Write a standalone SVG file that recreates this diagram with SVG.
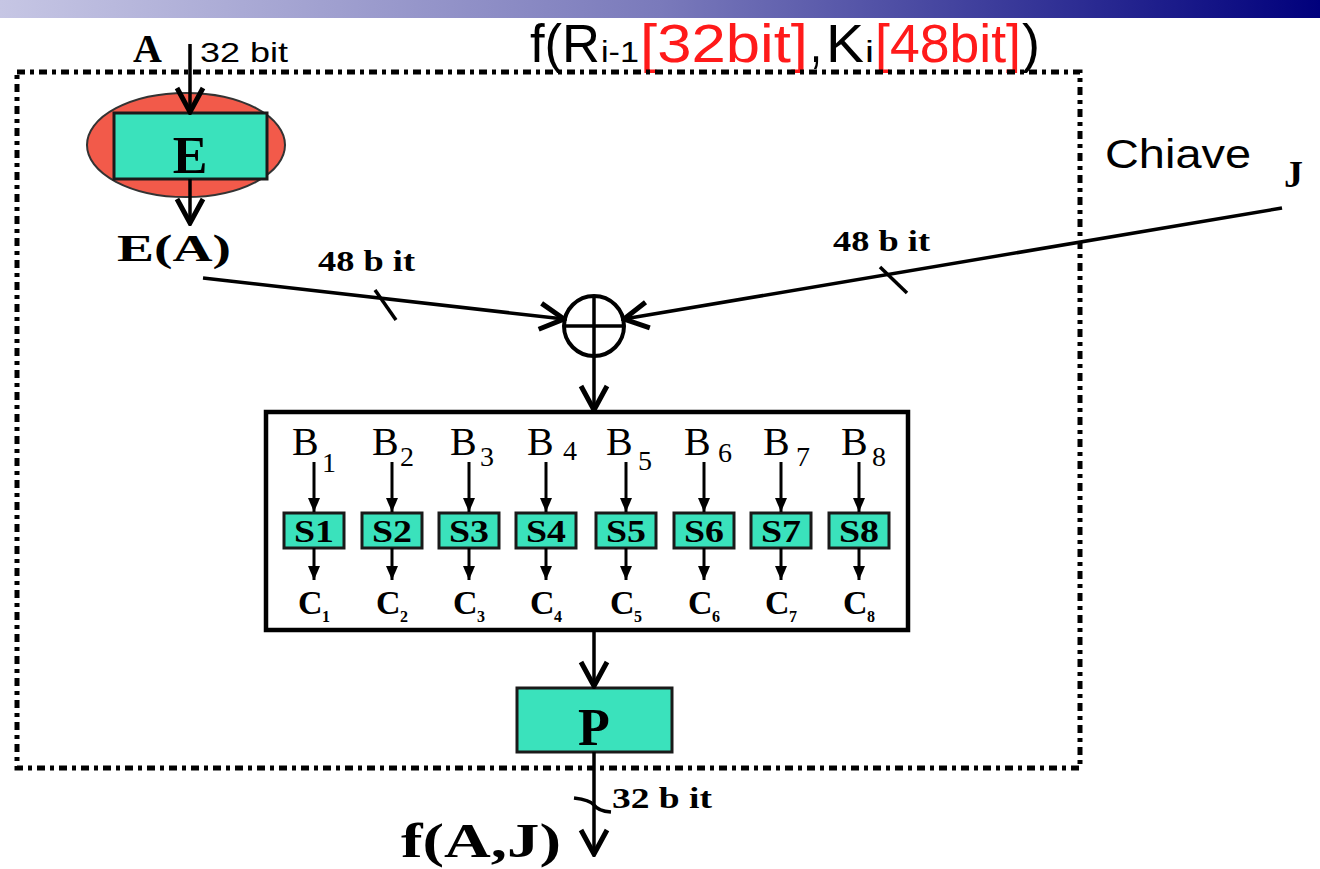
<svg xmlns="http://www.w3.org/2000/svg" width="1320" height="869" viewBox="0 0 1320 869">
<style>
.ser{font-family:"Liberation Serif","Times New Roman",serif;fill:#000}
.b{font-weight:bold}
.sans{font-family:"Liberation Sans",Arial,sans-serif}
.ln{stroke:#000;stroke-width:3.5;fill:none}
.box{fill:#3ae2bc;stroke:#1a1a1a;stroke-width:3}
.red{fill:#ff1a1a}
</style>
<defs>
<linearGradient id="bar" x1="0" x2="1" y1="0" y2="0">
<stop offset="0" stop-color="#c6c6e4"/>
<stop offset="0.5" stop-color="#7a7abb"/>
<stop offset="1" stop-color="#00007c"/>
</linearGradient>
<marker id="big" viewBox="0 0 30 32" refX="27" refY="16" markerWidth="30" markerHeight="32" markerUnits="userSpaceOnUse" orient="auto">
<path d="M3,3 L27,16 L3,29" fill="none" stroke="#000" stroke-width="5"/>
</marker>
<marker id="sm" viewBox="0 0 16 14" refX="15" refY="7" markerWidth="16" markerHeight="14" markerUnits="userSpaceOnUse" orient="auto">
<path d="M1,1 L15,7 L1,13 Z" fill="#000"/>
</marker>
</defs>
<rect x="0" y="0" width="1320" height="18" fill="url(#bar)"/>
<g id="title" class="sans">
<text x="530" y="62" font-size="54" textLength="70" lengthAdjust="spacingAndGlyphs">f(R</text>
<text x="601" y="62" font-size="30" textLength="38" lengthAdjust="spacingAndGlyphs">i-1</text>
<text x="640" y="62" font-size="54" class="red" textLength="168" lengthAdjust="spacingAndGlyphs">[32bit]</text>
<text x="810" y="62" font-size="54" textLength="12" lengthAdjust="spacingAndGlyphs">,</text>
<text x="826" y="62" font-size="54" textLength="38" lengthAdjust="spacingAndGlyphs">K</text>
<text x="865" y="62" font-size="30" textLength="9" lengthAdjust="spacingAndGlyphs">i</text>
<text x="875" y="62" font-size="54" class="red" textLength="146" lengthAdjust="spacingAndGlyphs">[48bit]</text>
<text x="1022" y="62" font-size="54" textLength="18" lengthAdjust="spacingAndGlyphs">)</text>
</g>
<rect id="frame" x="17" y="72" width="1063" height="696" fill="none" stroke="#000" stroke-width="5" stroke-dasharray="8 5 4 5"/>
<g id="inputA">
<text x="133" y="62" class="ser b" font-size="40">A</text>
<text x="200" y="62" class="sans" font-size="28" textLength="88" lengthAdjust="spacingAndGlyphs">32 bit</text>
</g>
<g id="E">
<ellipse cx="186" cy="145" rx="99" ry="52" fill="#f25a4a" stroke="#333" stroke-width="2"/>
<rect x="114" y="113" width="153" height="66" class="box"/>
<text x="190" y="173" class="ser b" font-size="52" text-anchor="middle">E</text>
</g>
<g id="EA"><text x="117" y="261" class="ser b" font-size="38" textLength="114" lengthAdjust="spacingAndGlyphs">E(A)</text></g>
<g id="key">
<text x="1105" y="168" class="sans" font-size="40" textLength="146" lengthAdjust="spacingAndGlyphs">Chiave</text>
<text x="1284" y="187" class="ser b" font-size="38">J</text>
</g>
<g id="xor">
<circle cx="594" cy="326" r="30" fill="#fff" stroke="#000" stroke-width="4"/>
<line x1="564" y1="326" x2="624" y2="326" stroke="#000" stroke-width="3.5"/>
<line x1="594" y1="296" x2="594" y2="356" stroke="#000" stroke-width="3.5"/>
</g>
<g id="sbox">
<rect x="266" y="412" width="642" height="218" fill="#fff" stroke="#000" stroke-width="4.5"/>
<g class="ser" font-size="40">
<text x="292" y="455">B</text><text x="372" y="455">B</text><text x="450" y="455">B</text><text x="527" y="455">B</text>
<text x="606" y="455">B</text><text x="684" y="455">B</text><text x="763" y="455">B</text><text x="841" y="455">B</text>
</g>
<g class="ser" font-size="28">
<text x="322" y="472">1</text><text x="400" y="466">2</text><text x="480" y="466">3</text><text x="563" y="460">4</text>
<text x="638" y="470">5</text><text x="718" y="462">6</text><text x="796" y="466">7</text><text x="872" y="466">8</text>
</g>
<g class="box">
<rect x="284" y="513" width="60" height="35"/><rect x="362" y="513" width="60" height="35"/>
<rect x="439" y="513" width="60" height="35"/><rect x="516" y="513" width="60" height="35"/>
<rect x="596" y="513" width="60" height="35"/><rect x="674" y="513" width="60" height="35"/>
<rect x="751" y="513" width="60" height="35"/><rect x="829" y="513" width="60" height="35"/>
</g>
<g class="ser b" font-size="32" text-anchor="middle">
<text x="314" y="542" textLength="40" lengthAdjust="spacingAndGlyphs">S1</text><text x="392" y="542" textLength="40" lengthAdjust="spacingAndGlyphs">S2</text>
<text x="469" y="542" textLength="40" lengthAdjust="spacingAndGlyphs">S3</text><text x="546" y="542" textLength="40" lengthAdjust="spacingAndGlyphs">S4</text>
<text x="626" y="542" textLength="40" lengthAdjust="spacingAndGlyphs">S5</text><text x="704" y="542" textLength="40" lengthAdjust="spacingAndGlyphs">S6</text>
<text x="781" y="542" textLength="40" lengthAdjust="spacingAndGlyphs">S7</text><text x="859" y="542" textLength="40" lengthAdjust="spacingAndGlyphs">S8</text>
</g>
<g class="ser b" font-size="34">
<text x="298" y="614">C</text><text x="376" y="614">C</text><text x="453" y="614">C</text><text x="530" y="614">C</text>
<text x="610" y="614">C</text><text x="688" y="614">C</text><text x="765" y="614">C</text><text x="843" y="614">C</text>
</g>
<g class="ser b" font-size="16">
<text x="322" y="622">1</text><text x="400" y="622">2</text><text x="477" y="622">3</text><text x="554" y="622">4</text>
<text x="634" y="622">5</text><text x="712" y="622">6</text><text x="789" y="622">7</text><text x="867" y="622">8</text>
</g>
</g>
<g id="P">
<rect x="517" y="688" width="155" height="64" class="box"/>
<text x="594" y="745" class="ser b" font-size="52" text-anchor="middle">P</text>
</g>
<g id="out">
<text x="612" y="808" class="ser b" font-size="30" textLength="100" lengthAdjust="spacingAndGlyphs">32 b it</text>
<text x="401" y="857" class="ser b" font-size="48" textLength="160" lengthAdjust="spacingAndGlyphs">f(A,J)</text>
</g>
<g id="labels48" class="ser b" font-size="30">
<text x="318" y="271" textLength="97" lengthAdjust="spacingAndGlyphs">48 b it</text>
<text x="833" y="251" textLength="97" lengthAdjust="spacingAndGlyphs">48 b it</text>
</g>
<g id="connectors">
<line x1="190" y1="44" x2="190" y2="112" class="ln" marker-end="url(#big)"/>
<line x1="190" y1="179" x2="190" y2="223" class="ln" marker-end="url(#big)"/>
<line x1="203" y1="278" x2="564" y2="319" class="ln" marker-end="url(#big)"/>
<line x1="1282" y1="208" x2="624" y2="319" class="ln" marker-end="url(#big)"/>
<line x1="594" y1="356" x2="594" y2="410" class="ln" marker-end="url(#big)"/>
<line x1="594" y1="632" x2="594" y2="686" class="ln" marker-end="url(#big)"/>
<line x1="594" y1="752" x2="594" y2="854" class="ln" marker-end="url(#big)"/>
<line x1="375" y1="290" x2="396" y2="320" class="ln"/>
<line x1="880" y1="267" x2="907" y2="293" class="ln"/>
<path d="M574,798 Q590,800 594,805 Q598,811 611,812" class="ln"/>
<g stroke="#000" stroke-width="3" marker-end="url(#sm)">
<line x1="314" y1="462" x2="314" y2="512"/><line x1="392" y1="462" x2="392" y2="512"/>
<line x1="469" y1="462" x2="469" y2="512"/><line x1="546" y1="462" x2="546" y2="512"/>
<line x1="626" y1="462" x2="626" y2="512"/><line x1="704" y1="462" x2="704" y2="512"/>
<line x1="781" y1="462" x2="781" y2="512"/><line x1="859" y1="462" x2="859" y2="512"/>
<line x1="314" y1="548" x2="314" y2="580"/><line x1="392" y1="548" x2="392" y2="580"/>
<line x1="469" y1="548" x2="469" y2="580"/><line x1="546" y1="548" x2="546" y2="580"/>
<line x1="626" y1="548" x2="626" y2="580"/><line x1="704" y1="548" x2="704" y2="580"/>
<line x1="781" y1="548" x2="781" y2="580"/><line x1="859" y1="548" x2="859" y2="580"/>
</g>
</g>
</svg>
